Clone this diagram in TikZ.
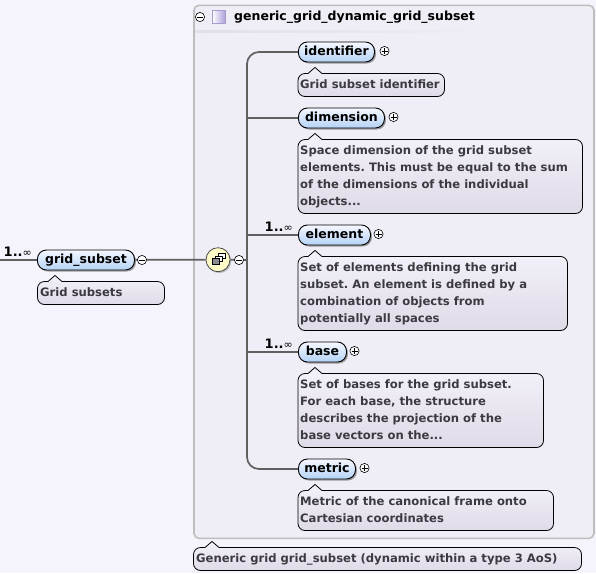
\documentclass[tikz,border=0pt]{standalone}
\usepackage{fontspec}
\setmainfont{DejaVu Sans}
\usetikzlibrary{shadows,fit,calc}
\definecolor{pagebg}{HTML}{F5F3FB}
\definecolor{innerbg}{HTML}{EFEDF6}
\definecolor{framec}{HTML}{BEBEBE}
\definecolor{linec}{HTML}{606060}
\definecolor{desctext}{HTML}{3C3A40}
\definecolor{pilltop}{HTML}{F6F8FF}
\definecolor{pillbot}{HTML}{B4D2F6}
\definecolor{desctop}{HTML}{F3F1F9}
\definecolor{descbot}{HTML}{DFDBE8}
\definecolor{groupedge}{HTML}{A99CCB}
\definecolor{groupdark}{HTML}{B0A2DC}
\frenchspacing
\tikzset{
  x=1pt,y=-1pt,
  pill/.style={draw=black,line width=0.9pt,rounded corners=9pt,top color=pilltop,bottom color=pillbot,
    drop shadow={shadow xshift=1.5pt,shadow yshift=-1.5pt,fill=black!50,opacity=.75},
    font=\fontsize{12.5pt}{14pt}\selectfont\bfseries,text=black,anchor=west,inner sep=0pt,minimum height=20pt,text height=9.5pt,text depth=2.5pt,align=center},
  conn/.style={draw=linec,line width=1.7pt},
  desctxt/.style={font=\fontsize{11.6pt}{17pt}\selectfont\bfseries\frenchspacing,text=desctext,anchor=north west,align=left,inner sep=0pt},
  descbox/.style={draw=black,line width=0.8pt,top color=desctop,bottom color=descbot},
  mult/.style={font=\fontsize{13pt}{15pt}\selectfont\bfseries,text=black,anchor=base east,inner sep=0pt},
}
\newcommand{\infsym}{{\fontsize{11pt}{12pt}\selectfont\mdseries ∞}}
\newcommand{\descshape}[6]{% x1 y1 x2 y2 notchx radius
  \path[descbox] (#1+#6,#2) -- (#5-7,#2) -- (#5,#2-6) -- (#5+7,#2) -- (#3-#6,#2)
    arc[start angle=90,end angle=0,radius=#6pt] -- (#3,#4-#6)
    arc[start angle=0,end angle=-90,radius=#6pt] -- (#1+#6,#4)
    arc[start angle=-90,end angle=-180,radius=#6pt] -- (#1,#2+#6)
    arc[start angle=180,end angle=90,radius=#6pt] -- cycle;
}
\newcommand{\plusat}[2]{%
  \draw[line width=0.6pt,fill=white] (#1,#2) circle[radius=4.6pt];
  \draw[line width=0.6pt] (#1-3,#2) -- (#1+3,#2) (#1,#2-3) -- (#1,#2+3);
}
\newcommand{\minusat}[2]{%
  \draw[line width=0.6pt,fill=white] (#1,#2) circle[radius=4.6pt];
  \draw[line width=0.6pt] (#1-3,#2) -- (#1+3,#2);
}
\begin{document}
\begin{tikzpicture}
\useasboundingbox (0,0) rectangle (596,573);
\fill[pagebg] (0,0) rectangle (596,573);
% group frame
\node[draw=framec,fill=innerbg,line width=1.6pt,rounded corners=5pt,minimum width=400pt,minimum height=533pt,inner sep=0pt,anchor=north west] (frame) at (193.2,4.5) {};
\shade[left color=black!6!innerbg,right color=innerbg] (195,30.5) rectangle (495,32);
\node[font=\fontsize{12.5pt}{14pt}\selectfont\bfseries,anchor=west,inner sep=0pt] (title) at (234,17.5) {generic\_grid\_dynamic\_grid\_subset};
\minusat{200}{17}
\node[draw=groupedge,line width=0.8pt,shading=axis,shading angle=135,left color=white,right color=groupdark,minimum size=13pt,inner sep=0pt] (groupicon) at (218.5,17) {};
% nodes
\coordinate (leftend) at (0,260);
\coordinate (busx) at (247,260);
\node[circle,draw=black!70,line width=.8pt,fill=yellow!22,minimum size=24pt,inner sep=0pt,drop shadow={shadow xshift=1.4pt,shadow yshift=-1.4pt,fill=black!45}] (choice) at (218,259.7) {};
\coordinate (gs) at (37,260);
\coordinate (idw) at (298,52);
\coordinate (dimw) at (298,118);
\coordinate (elw) at (298,235);
\coordinate (basew) at (298,352);
\coordinate (metw) at (298,469);
\draw[conn] (leftend) -- (gs);
\draw[conn] (gs) -- (choice.west);
\draw[conn] (choice.east) -- (busx);
\draw[conn,rounded corners=12pt] (idw) -| (busx) |- (metw);
\draw[conn] (busx |- dimw) -- (dimw);
\draw[conn] (busx |- elw) -- (elw);
\draw[conn] (busx |- basew) -- (basew);
\node[pill,minimum width=97pt] (gridsubset) at (gs) {grid\_subset};
\node[pill,minimum width=76pt] (identifier) at (idw) {identifier};
\node[pill,minimum width=86pt] (dimension) at (dimw) {dimension};
\node[pill,minimum width=72pt] (element) at (elw) {element};
\node[pill,minimum width=48pt] (base) at (basew) {base};
\node[pill,minimum width=57pt] (metric) at (metw) {metric};
% choice icon
\draw[black,line width=.9pt,fill=white] (218,253.5) rectangle (225,258.5);
\draw[black,line width=.9pt,fill=white] (215,256) rectangle (222,261);
\draw[black,line width=.9pt,fill=black!45] (212,258.5) rectangle (219,264);
\minusat{142}{260}
\minusat{239}{260}
\plusat{384.5}{51}
\plusat{393.5}{117}
\plusat{378.5}{234}
\plusat{354.5}{351}
\plusat{364.5}{468}
% multiplicities
\node[mult] (m0) at (32,256.5) {1..\infsym};
\node[mult] (m1) at (293,231.5) {1..\infsym};
\node[mult] (m2) at (293,348.5) {1..\infsym};
% descriptions
\descshape{37.5}{281.5}{164.5}{304.5}{55}{7}
\node[desctxt] (d0) at (40,287) {Grid subsets};
\descshape{298}{73.5}{444.5}{96.5}{315}{7}
\node[desctxt] (d1) at (300,79) {Grid subset identifier};
\descshape{298}{139.5}{582.5}{213.5}{315}{7}
\node[desctxt] (d2) at (300,145) {Space dimension of the grid subset\\elements. This must be equal to the sum\\of the dimensions of the individual\\objects...};
\descshape{298}{256.5}{567.5}{330.5}{315}{7}
\node[desctxt] (d3) at (300,262) {Set of elements defining the grid\\subset. An element is defined by a\\combination of objects from\\potentially all spaces};
\descshape{298}{373.5}{543.5}{447.5}{315}{7}
\node[desctxt] (d4) at (300,379) {Set of bases for the grid subset.\\For each base, the structure\\describes the projection of the\\base vectors on the...};
\descshape{298}{490.5}{553.5}{530.5}{315}{7}
\node[desctxt] (d5) at (300,496) {Metric of the canonical frame onto\\Cartesian coordinates};
\descshape{193.5}{547.5}{581.5}{570.5}{212}{7}
\node[desctxt] (d6) at (196,553) {Generic grid grid\_subset (dynamic within a type 3 AoS)};
\end{tikzpicture}
\end{document}
